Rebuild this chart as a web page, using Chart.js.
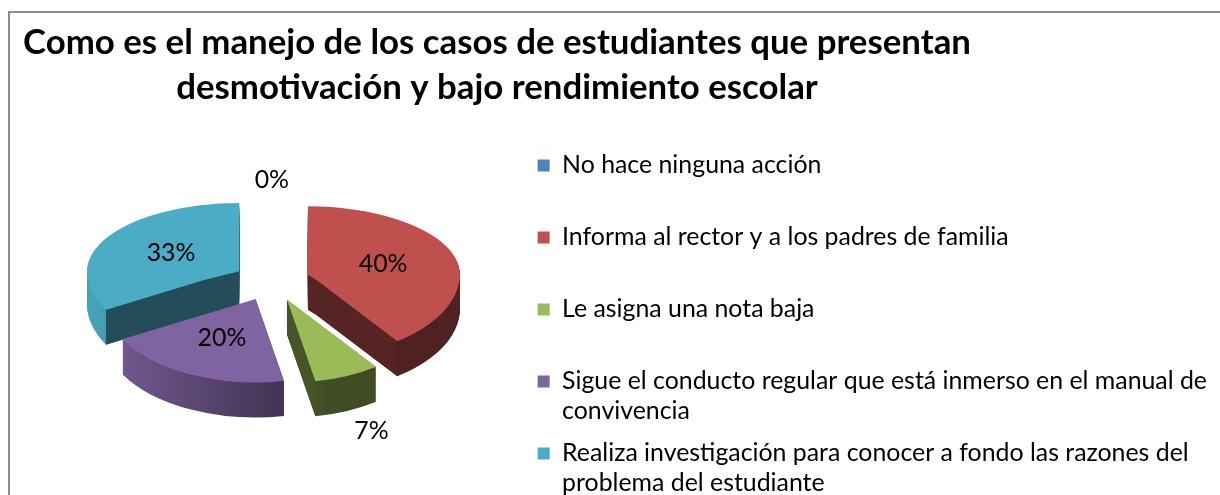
<!DOCTYPE html>
<html><head><meta charset="utf-8">
<script src="https://cdn.jsdelivr.net/npm/chart.js@4.4.0/dist/chart.umd.min.js"></script>
<style>
html,body{margin:0;padding:0;overflow:hidden;background:#fff;width:1220px;height:495px;}
#frame{position:absolute;left:8px;top:11px;width:1300px;height:600px;border-left:2px solid #8c8c8c;border-top:2px solid #8c8c8c;box-sizing:border-box;}
#wrap{position:absolute;left:0;top:0;width:1220px;height:513px;}
</style></head><body>
<div id="frame"></div>
<div id="wrap"><canvas id="c"></canvas></div>
<script>
// ---- data ----
const titleLines = ['Como es el manejo de los casos de estudiantes que presentan', 'desmotivación y bajo rendimiento escolar'];
const categories = [
  'No hace ninguna acción',
  'Informa al rector y a los padres de familia',
  'Le asigna una nota baja',
  'Sigue el conducto regular que está inmerso en el manual de convivencia',
  'Realiza investigación para conocer a fondo las razones del problema del estudiante'
];
const percentages = [0, 40, 7, 20, 33];
const topColors = ['#4F81BD', '#C0504D', '#9BBB59', '#8064A2', '#4BACC6'];

// ---- helpers ----
function shade(hex, f) {
  const n = parseInt(hex.slice(1), 16);
  const r = Math.round(((n >> 16) & 255) * f), g = Math.round(((n >> 8) & 255) * f), b = Math.round((n & 255) * f);
  return 'rgb(' + r + ',' + g + ',' + b + ')';
}
const mctx = document.createElement('canvas').getContext('2d');
function fitSize(text, weight, target) {
  mctx.font = weight + ' 100px Lato';
  return 100 * target / mctx.measureText(text).width;
}
const titleSize = fitSize(titleLines[0], 'bold', 948);
const legendSize = fitSize('Sigue el conducto regular que está inmerso en el manual de', 'normal', 645);

function wrap(text, maxW) {
  mctx.font = 'normal ' + legendSize + 'px Lato';
  const words = text.split(' ');
  const lines = [];
  let cur = '';
  words.forEach(w => {
    const t = cur ? cur + ' ' + w : w;
    if (mctx.measureText(t).width > maxW && cur) { lines.push(cur); cur = w; }
    else cur = t;
  });
  if (cur) lines.push(cur);
  return lines;
}

// ---- 3D tilted exploded pie plugin (back half flatter than front half) ----
const tilt3d = {
  id: 'tilt3d',
  afterLayout(chart, args, opts) {
    const tb = chart.titleBlock;
    if (tb) { tb.left = opts.titleLeft; tb.right = opts.titleRight; }
  },
  beforeDatasetsDraw(chart, args, opts) {
    const ctx = chart.ctx;
    const arcs = chart.getDatasetMeta(0).data;
    if (!arcs.length) return;
    const c = arcs[0];
    const E = opts.explode, D = opts.depth, kb = opts.tiltBack, kf = opts.tiltFront;
    const mapY = (yr) => c.y + yr * (yr < 0 ? kb : kf);
    const drawArc = (arc, i, side) => {
      const a = (arc.startAngle + arc.endAngle) / 2;
      const dx = Math.cos(a) * E;
      ctx.save();
      ctx.translate(dx, Math.sin(a) * E);
      let fill = topColors[i];
      if (side) {
        const g = ctx.createLinearGradient(c.x + opts.litFrom - dx, 0, c.x + opts.litTo - dx, 0);
        g.addColorStop(0, shade(topColors[i], opts.litMax));
        g.addColorStop(1, shade(topColors[i], opts.litMin));
        fill = g;
      }
      const fake = Object.create(arc);
      fake.options = Object.assign({}, arc.options, {backgroundColor: fill, borderWidth: 0, offset: 0});
      fake.draw(ctx);
      ctx.restore();
    };
    const layer = (dy, side) => {
      const cut = Math.round(c.y + dy);
      [[kb, -5000, cut], [kf, cut, 5000]].forEach(([kk, y0, y1]) => {
        ctx.save();
        ctx.beginPath();
        ctx.rect(-5000, y0, 10000, y1 - y0);
        ctx.clip();
        ctx.translate(c.x, c.y + dy);
        ctx.scale(1, kk);
        ctx.translate(-c.x, -c.y);
        arcs.forEach((arc, i) => drawArc(arc, i, side));
        ctx.restore();
      });
    };
    // curved outer sides (stacked layers)
    for (let d = D; d >= 1; d--) layer(d, true);
    // radial cut faces facing the viewer
    arcs.forEach((arc, i) => {
      if (arc.endAngle - arc.startAngle <= 0) return;
      const m = (arc.startAngle + arc.endAngle) / 2;
      const ax = Math.cos(m) * E, ay = Math.sin(m) * E;
      const R = arc.outerRadius;
      [[arc.startAngle, -1], [arc.endAngle, 1]].forEach(([t, s]) => {
        if (s * Math.cos(t) <= 0.001) return;
        const px = ax + Math.cos(t) * R, py = ay + Math.sin(t) * R;
        const pts = [[ax, ay]];
        if ((ay < 0) !== (py < 0)) {
          const f = ay / (ay - py);
          pts.push([ax + (px - ax) * f, 0]);
        }
        pts.push([px, py]);
        const top = pts.map(([x, y]) => [c.x + x, mapY(y)]);
        ctx.save();
        ctx.fillStyle = shade(topColors[i], opts.faceShade);
        ctx.beginPath();
        top.forEach(([x, y], j) => j ? ctx.lineTo(x, y) : ctx.moveTo(x, y));
        top.slice().reverse().forEach(([x, y]) => ctx.lineTo(x, y + D));
        ctx.closePath();
        ctx.fill();
        ctx.restore();
      });
    });
    // top faces
    layer(0, false);
    return false;
  },
  afterDraw(chart, args, opts) {
    const ctx = chart.ctx;
    const arcs = chart.getDatasetMeta(0).data;
    if (!arcs.length) return;
    const c = arcs[0];
    const E = opts.explode, D = opts.depth, kb = opts.tiltBack, kf = opts.tiltFront;
    const mapY = (yr) => c.y + yr * (yr < 0 ? kb : kf);
    ctx.save();
    ctx.font = 'normal ' + legendSize + 'px Lato';
    ctx.fillStyle = '#000';
    ctx.textAlign = 'center';
    ctx.textBaseline = 'middle';
    const half = legendSize / 2 + 2;
    arcs.forEach((arc, i) => {
      const v = percentages[i];
      const a = (arc.startAngle + arc.endAngle) / 2;
      const R = arc.outerRadius;
      const ax = Math.cos(a) * E, ay = Math.sin(a) * E;
      let x, y;
      if (v >= 10) {
        const r = 0.52 * R;
        x = c.x + ax + Math.cos(a) * r;
        y = mapY(ay + Math.sin(a) * r);
      } else {
        x = c.x + ax + Math.cos(a) * R * 1.4;
        if (Math.sin(a) > 0) {
          const s = Math.max(Math.sin(arc.startAngle), Math.sin(arc.endAngle), (arc.startAngle < Math.PI / 2 && arc.endAngle > Math.PI / 2) ? 1 : -1);
          y = mapY(ay + s * R) + D + half;
        } else {
          const s = Math.min(Math.sin(arc.startAngle), Math.sin(arc.endAngle));
          y = mapY(ay + s * R) - half;
        }
      }
      ctx.fillText(v + '%', x, y);
    });
    ctx.restore();
  }
};

new Chart(document.getElementById('c'), {
  type: 'pie',
  data: {
    labels: categories,
    datasets: [{
      data: percentages,
      backgroundColor: topColors,
      borderWidth: 0,
      radius: 152
    }]
  },
  plugins: [tilt3d],
  options: {
    responsive: true,
    maintainAspectRatio: false,
    animation: false,
    layout: {padding: {left: 18, right: 3, top: 0, bottom: 0}},
    plugins: {
      tooltip: {enabled: false},
      tilt3d: {
        tiltBack: 0.45, tiltFront: 0.55, depth: 35, explode: 38, titleLeft: 0, titleRight: 994,
        litFrom: -184, litTo: 58, litMax: 0.95, litMin: 0.41, faceShade: 0.45
      },
      title: {
        display: true,
        text: titleLines,
        color: '#000',
        font: {family: 'Lato', weight: 'bold', size: titleSize, lineHeight: '45px'},
        padding: {top: 20.5, bottom: -63.5}
      },
      legend: {
        position: 'right',
        align: 'end',
        fullSize: true,
        maxWidth: 760,
        labels: {
          color: '#000',
          boxWidth: 12,
          boxHeight: 12,
          padding: 12,
          font: {family: 'Lato', size: legendSize, lineHeight: '30px'},
          generateLabels(chart) {
            const items = Chart.DoughnutController.overrides.plugins.legend.labels.generateLabels(chart);
            return items.map(it => {
              const lines = wrap(it.text, 655);
              if (lines.length < 2) lines.push('');
              it.text = lines;
              return it;
            });
          }
        }
      }
    }
  }
});
</script>
</body></html>
